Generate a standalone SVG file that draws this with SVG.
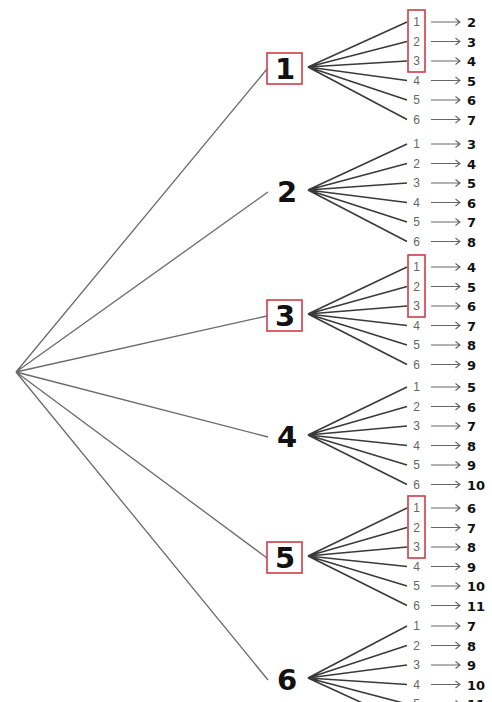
<svg xmlns="http://www.w3.org/2000/svg" width="492" height="702" viewBox="0 0 492 702">
<style>
.root{stroke:#6a6a6a;stroke-width:1.3;fill:none}
.br{stroke:#3a3a3a;stroke-width:1.6;fill:none}
.arr{stroke:#666;stroke-width:1.1;fill:none}
.node{font-family:"DejaVu Sans","Liberation Sans",sans-serif;font-weight:bold;font-size:29px;fill:#111;text-anchor:middle}
.leaf{font-family:"Liberation Sans",Arial,sans-serif;font-size:12px;fill:#666;text-anchor:middle}
.res{font-family:"DejaVu Sans","Liberation Sans",sans-serif;font-weight:bold;font-size:13px;fill:#111}
.rbox{fill:none;stroke:#cf3c48;stroke-width:1.6}
</style>
<defs>
<g id="ar"><path class="arr" d="M431,0 H460 M455.5,-3.5 L460,0 L455.5,3.5"/></g>
</defs>
<rect width="492" height="702" fill="#fff"/>
<g id="connectors">
<path class="root" d="M16,372 L267,69 M16,372 L268,192 M16,372 L267,316 M16,372 L268,437 M16,372 L267,558 M16,372 L268,680"/>
<path class="br" d="M308,67 L407,22 M308,67 L407,41.5 M308,67 L407,61 M308,67 L407,80.5 M308,67 L407,100 M308,67 L407,119.5"/>
<path class="br" d="M308,190 L407,144 M308,190 L407,163.5 M308,190 L407,183 M308,190 L407,202.5 M308,190 L407,222 M308,190 L407,241.5"/>
<path class="br" d="M308,314 L407,267 M308,314 L407,286.5 M308,314 L407,306 M308,314 L407,325.5 M308,314 L407,345 M308,314 L407,364.5"/>
<path class="br" d="M308,435 L407,387 M308,435 L407,406.5 M308,435 L407,426 M308,435 L407,445.5 M308,435 L407,465 M308,435 L407,484.5"/>
<path class="br" d="M308,556 L407,508 M308,556 L407,527.5 M308,556 L407,547 M308,556 L407,566.5 M308,556 L407,586 M308,556 L407,605.5"/>
<path class="br" d="M308,678 L407,626 M308,678 L407,645.5 M308,678 L407,665 M308,678 L407,684.5 M308,678 L407,704 M308,678 L407,723.5"/>
</g>
<g id="n1"><rect class="rbox" x="267" y="53" width="35" height="31"/><text class="node" x="285" y="79">1</text></g>
<g id="n2"><text class="node" x="287" y="202">2</text></g>
<g id="n3"><rect class="rbox" x="267" y="300" width="35" height="31"/><text class="node" x="285" y="326">3</text></g>
<g id="n4"><text class="node" x="287" y="447">4</text></g>
<g id="n5"><rect class="rbox" x="267" y="542" width="35" height="31"/><text class="node" x="285" y="568">5</text></g>
<g id="n6"><text class="node" x="287" y="690">6</text></g>
<g id="g1leaves">
<rect class="rbox" x="408" y="10" width="17" height="62"/>
<text class="leaf" x="416.5" y="26">1</text><text class="leaf" x="416.5" y="45.5">2</text><text class="leaf" x="416.5" y="65">3</text><text class="leaf" x="416.5" y="84.5">4</text><text class="leaf" x="416.5" y="104">5</text><text class="leaf" x="416.5" y="123.5">6</text>
<use href="#ar" y="22"/><use href="#ar" y="41.5"/><use href="#ar" y="61"/><use href="#ar" y="80.5"/><use href="#ar" y="100"/><use href="#ar" y="119.5"/>
<text class="res" x="467" y="27">2</text><text class="res" x="467" y="46.5">3</text><text class="res" x="467" y="66">4</text><text class="res" x="467" y="85.5">5</text><text class="res" x="467" y="105">6</text><text class="res" x="467" y="124.5">7</text>
</g>
<g id="g2leaves">
<text class="leaf" x="416.5" y="148">1</text><text class="leaf" x="416.5" y="167.5">2</text><text class="leaf" x="416.5" y="187">3</text><text class="leaf" x="416.5" y="206.5">4</text><text class="leaf" x="416.5" y="226">5</text><text class="leaf" x="416.5" y="245.5">6</text>
<use href="#ar" y="144"/><use href="#ar" y="163.5"/><use href="#ar" y="183"/><use href="#ar" y="202.5"/><use href="#ar" y="222"/><use href="#ar" y="241.5"/>
<text class="res" x="467" y="149">3</text><text class="res" x="467" y="168.5">4</text><text class="res" x="467" y="188">5</text><text class="res" x="467" y="207.5">6</text><text class="res" x="467" y="227">7</text><text class="res" x="467" y="246.5">8</text>
</g>
<g id="g3leaves">
<rect class="rbox" x="408" y="255" width="17" height="62"/>
<text class="leaf" x="416.5" y="271">1</text><text class="leaf" x="416.5" y="290.5">2</text><text class="leaf" x="416.5" y="310">3</text><text class="leaf" x="416.5" y="329.5">4</text><text class="leaf" x="416.5" y="349">5</text><text class="leaf" x="416.5" y="368.5">6</text>
<use href="#ar" y="267"/><use href="#ar" y="286.5"/><use href="#ar" y="306"/><use href="#ar" y="325.5"/><use href="#ar" y="345"/><use href="#ar" y="364.5"/>
<text class="res" x="467" y="272">4</text><text class="res" x="467" y="291.5">5</text><text class="res" x="467" y="311">6</text><text class="res" x="467" y="330.5">7</text><text class="res" x="467" y="350">8</text><text class="res" x="467" y="369.5">9</text>
</g>
<g id="g4leaves">
<text class="leaf" x="416.5" y="391">1</text><text class="leaf" x="416.5" y="410.5">2</text><text class="leaf" x="416.5" y="430">3</text><text class="leaf" x="416.5" y="449.5">4</text><text class="leaf" x="416.5" y="469">5</text><text class="leaf" x="416.5" y="488.5">6</text>
<use href="#ar" y="387"/><use href="#ar" y="406.5"/><use href="#ar" y="426"/><use href="#ar" y="445.5"/><use href="#ar" y="465"/><use href="#ar" y="484.5"/>
<text class="res" x="467" y="392">5</text><text class="res" x="467" y="411.5">6</text><text class="res" x="467" y="431">7</text><text class="res" x="467" y="450.5">8</text><text class="res" x="467" y="470">9</text><text class="res" x="467" y="489.5">10</text>
</g>
<g id="g5leaves">
<rect class="rbox" x="408" y="496" width="17" height="62"/>
<text class="leaf" x="416.5" y="512">1</text><text class="leaf" x="416.5" y="531.5">2</text><text class="leaf" x="416.5" y="551">3</text><text class="leaf" x="416.5" y="570.5">4</text><text class="leaf" x="416.5" y="590">5</text><text class="leaf" x="416.5" y="609.5">6</text>
<use href="#ar" y="508"/><use href="#ar" y="527.5"/><use href="#ar" y="547"/><use href="#ar" y="566.5"/><use href="#ar" y="586"/><use href="#ar" y="605.5"/>
<text class="res" x="467" y="513">6</text><text class="res" x="467" y="532.5">7</text><text class="res" x="467" y="552">8</text><text class="res" x="467" y="571.5">9</text><text class="res" x="467" y="591">10</text><text class="res" x="467" y="610.5">11</text>
</g>
<g id="g6leaves">
<text class="leaf" x="416.5" y="630">1</text><text class="leaf" x="416.5" y="649.5">2</text><text class="leaf" x="416.5" y="669">3</text><text class="leaf" x="416.5" y="688.5">4</text><text class="leaf" x="416.5" y="708">5</text>
<use href="#ar" y="626"/><use href="#ar" y="645.5"/><use href="#ar" y="665"/><use href="#ar" y="684.5"/><use href="#ar" y="704"/>
<text class="res" x="467" y="631">7</text><text class="res" x="467" y="650.5">8</text><text class="res" x="467" y="670">9</text><text class="res" x="467" y="689.5">10</text><text class="res" x="467" y="709">11</text>
</g>
</svg>
